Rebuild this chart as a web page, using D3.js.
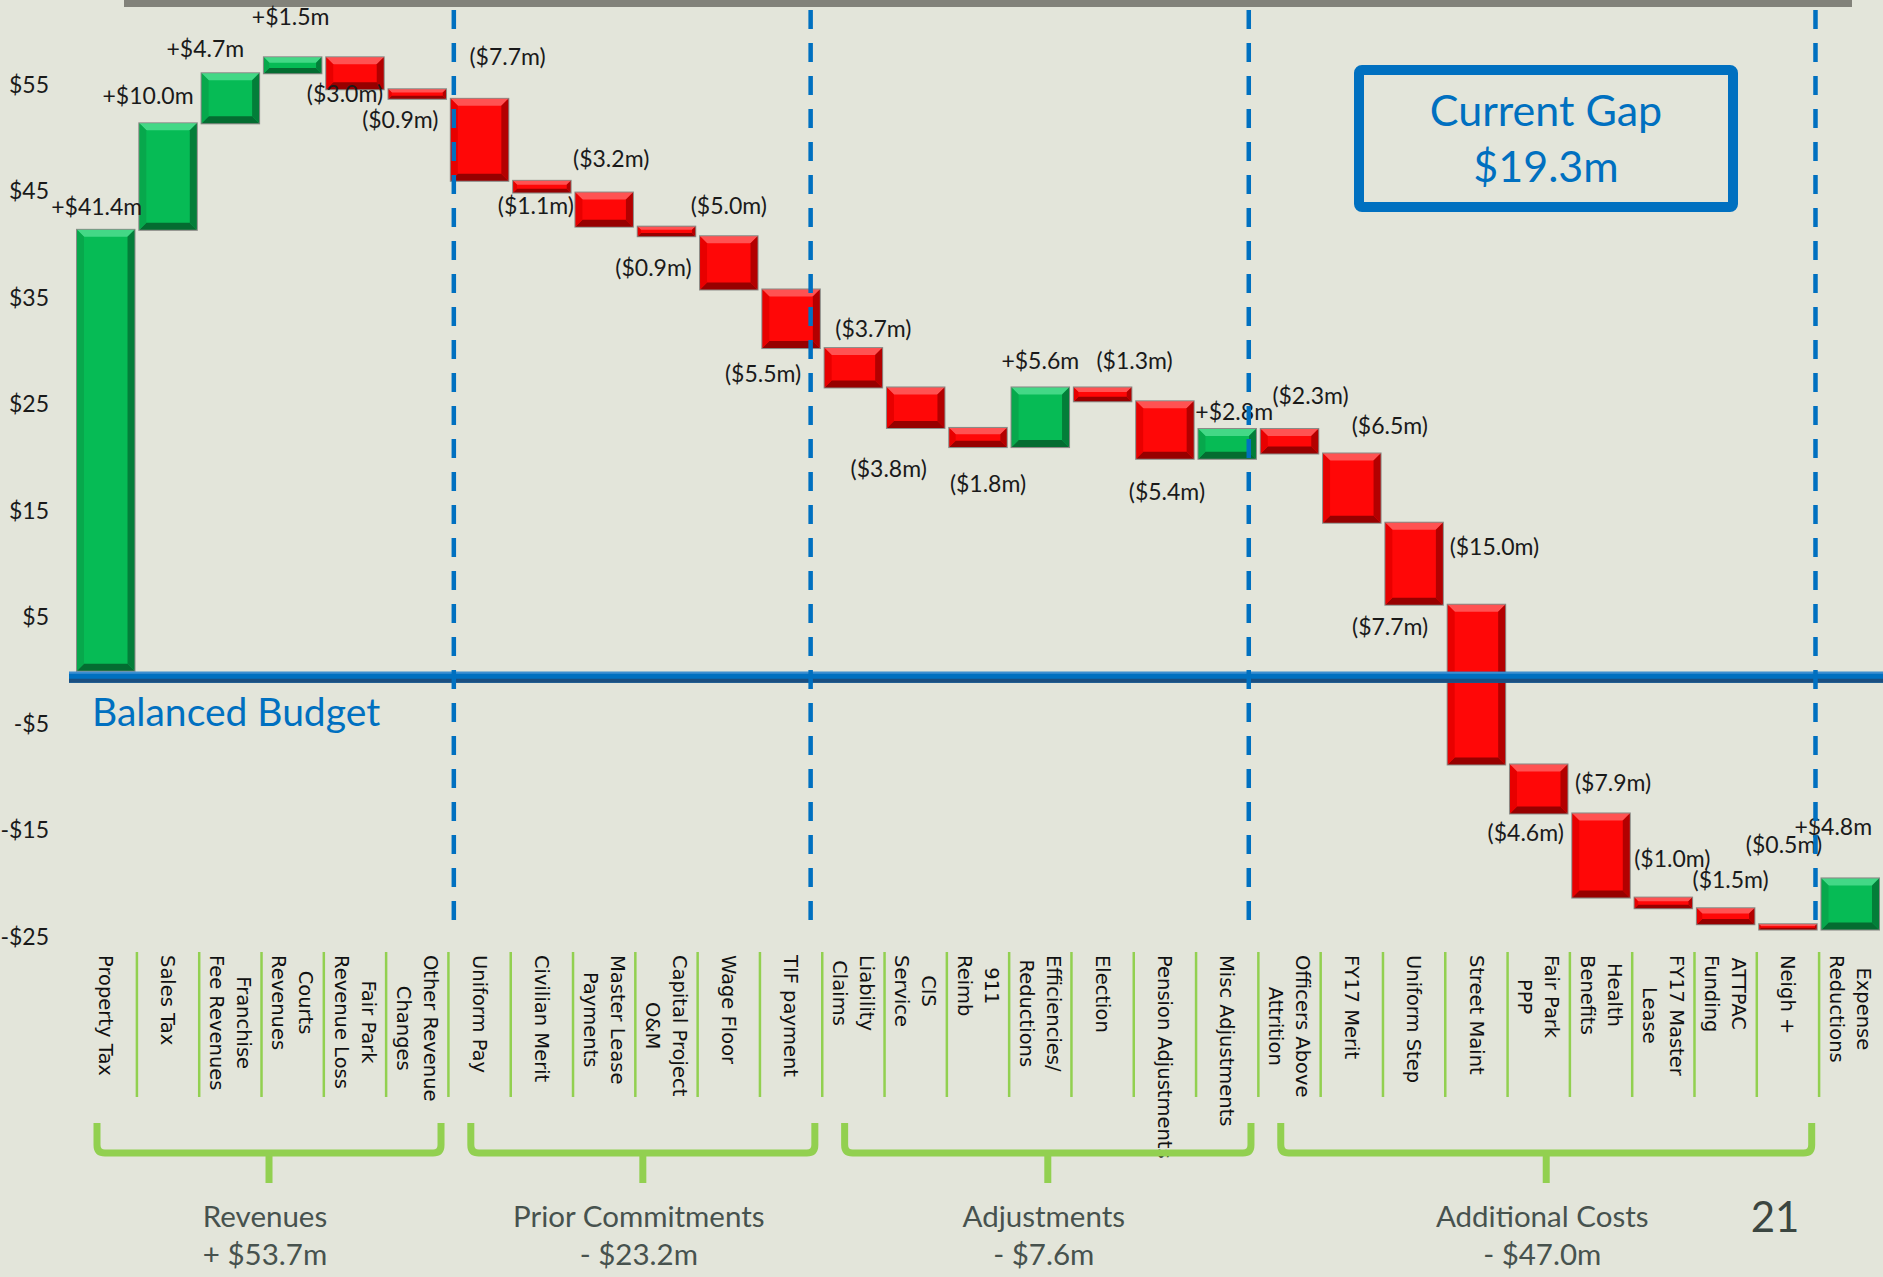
<!DOCTYPE html>
<html>
<head>
<meta charset="utf-8">
<script src="https://cdn.jsdelivr.net/npm/d3@7"></script>
<style>
  body { margin: 0; background: #e3e5da; }
  svg { display: block; }
</style>
</head>
<body>
<div id="chart"></div>
<script>
"use strict";

// budget bridge data ($m)
var categories = [
  "Property Tax", "Sales Tax", "Franchise\nFee Revenues", "Courts\nRevenues", "Fair Park\nRevenue Loss", "Other Revenue\nChanges",
  "Uniform Pay", "Civilian Merit", "Master Lease\nPayments", "Capital Project\nO&M", "Wage Floor", "TIF payment",
  "Liability\nClaims", "CIS\nService", "911\nReimb", "Efficiencies/\nReductions", "Election", "Pension Adjustments", "Misc Adjustments",
  "Officers Above\nAttrition", "FY17 Merit", "Uniform Step", "Street Maint", "Fair Park\nPPP", "Health\nBenefits",
  "FY17 Master\nLease", "ATTPAC\nFunding", "Neigh +", "Expense\nReductions"
];
var changes = [
  41.4, 10.0, 4.7, 1.5, -3.0, -0.9,
  -7.7, -1.1, -3.2, -0.9, -5.0, -5.5,
  -3.7, -3.8, -1.8, 5.6, -1.3, -5.4, 2.8,
  -2.3, -6.5, -7.7, -15.0, -4.6, -7.9, -1.0, -1.5, -0.5, 4.8
];
var tickValues = [55, 45, 35, 25, 15, 5, -5, -15, -25];
var groupNames = ["Revenues", "Prior Commitments", "Adjustments", "Additional Costs"];
var groupTotals = ["+ $53.7m", "- $23.2m", "- $7.6m", "- $47.0m"];
var groupFirst = [0, 6, 12, 19];
var groupLast = [5, 11, 18, 27];
var gapTitle = "Current Gap";
var gapValue = "$19.3m";
var pageNumber = "21";

// where each value label sits: edge of the bar, dx, dy (layout only)
var labelAt = [
  ["t", -9, -15], ["t", -20, -19], ["t", -25, -16], ["t", -2, -32], ["b", -10, 13], ["b", -17, 29],
  ["t", 28, -34], ["b", -6, 21], ["t", 7, -26], ["b", -13, 40], ["t", 0, -22], ["b", -28, 34],
  ["t", 20, -11], ["b", -27, 49], ["b", 10, 45], ["t", 0, -18], ["t", 32, -18], ["b", 2, 41], ["t", 7, -9],
  ["t", 21, -25], ["t", 38, -19], ["b", -24, 30], ["t", 18, -50], ["b", -13, 28], ["t", 12, -22],
  ["t", 9, -31], ["t", 5, -20], ["t", -4, -71], ["t", -17, -43]
];
// nudge of each dashed divider from the start of the next group (layout only)
var dividerShift = [3, -14, -12, -6];

var width = 1883, height = 1277;

var svg = d3.select("#chart").append("svg")
    .attr("width", width)
    .attr("height", height);

svg.append("rect").attr("width", width).attr("height", height).attr("fill", "#e3e5da");

var y = d3.scaleLinear().domain([-25, 55]).range([937, 85]);
var x = d3.scaleBand().domain(d3.range(categories.length)).range([77, 1879]).paddingInner(0.077).paddingOuter(0);
var bw = x.bandwidth();

var ends = Array.from(d3.cumsum(changes));
var bars = changes.map(function(c, i) {
  var end = ends[i], start = end - c;
  return { i: i, change: c, top: y(Math.max(start, end)), bottom: y(Math.min(start, end)) };
});

// top grey rule
svg.append("rect").attr("x", 124).attr("y", 0).attr("width", 1728).attr("height", 7).attr("fill", "#82827a");

// y axis, labels only
var yAxis = d3.axisLeft(y)
    .tickValues(tickValues)
    .tickSize(0)
    .tickPadding(0)
    .tickFormat(function(v) { return (v < 0 ? "-" : "") + "$" + Math.abs(v); });

var ay = svg.append("g").attr("transform", "translate(49,0)").call(yAxis);
ay.select(".domain").remove();
ay.selectAll("text")
    .attr("font-family", "Lato, sans-serif")
    .attr("font-size", 23)
    .attr("fill", "#1a1a1a");

// bevelled bars
var palettes = {
  up:   { face: "#06bb55", top: "#43d886", left: "#07a84c", right: "#037e39", bottom: "#046c31" },
  down: { face: "#ff0707", top: "#ff5252", left: "#e80000", right: "#b30000", bottom: "#970000" }
};

var gBars = svg.append("g");
bars.forEach(function(d) {
  var x0 = x(d.i), y0 = d.top, w = bw, h = Math.max(d.bottom - d.top, 2);
  var pal = d.change >= 0 ? palettes.up : palettes.down;
  var b = Math.min(7, h / 3, w / 3);
  var g = gBars.append("g");
  g.append("rect").attr("x", x0).attr("y", y0).attr("width", w).attr("height", h)
      .attr("fill", pal.face).attr("stroke", "#8a8a86").attr("stroke-width", 2);
  var poly = function(pts, fill) {
    g.append("polygon").attr("points", pts.map(function(p) { return p.join(","); }).join(" ")).attr("fill", fill);
  };
  poly([[x0, y0], [x0 + w, y0], [x0 + w - b, y0 + b], [x0 + b, y0 + b]], pal.top);
  poly([[x0, y0 + h], [x0 + w, y0 + h], [x0 + w - b, y0 + h - b], [x0 + b, y0 + h - b]], pal.bottom);
  poly([[x0, y0], [x0 + b, y0 + b], [x0 + b, y0 + h - b], [x0, y0 + h]], pal.left);
  poly([[x0 + w, y0], [x0 + w - b, y0 + b], [x0 + w - b, y0 + h - b], [x0 + w, y0 + h]], pal.right);
});

// value labels
var f1 = d3.format(".1f");
svg.append("g").selectAll("text")
  .data(bars)
  .enter().append("text")
    .attr("x", function(d) { return x(d.i) + bw / 2 + labelAt[d.i][1]; })
    .attr("y", function(d) { return (labelAt[d.i][0] === "t" ? d.top : d.bottom) + labelAt[d.i][2]; })
    .attr("text-anchor", "middle")
    .attr("font-family", "Lato, sans-serif")
    .attr("font-size", 23)
    .attr("fill", "#1a1a1a")
    .text(function(d) { return d.change > 0 ? "+$" + f1(d.change) + "m" : "($" + f1(-d.change) + "m)"; });

// balanced budget line
var zy = y(0);
svg.append("rect").attr("x", 69).attr("y", zy + 1).attr("width", width - 69).attr("height", 11).attr("fill", "#0070c0");
svg.append("rect").attr("x", 69).attr("y", zy + 8).attr("width", width - 69).attr("height", 4).attr("fill", "#1b4f80");
svg.append("rect").attr("x", 69).attr("y", zy + 1).attr("width", width - 69).attr("height", 2).attr("fill", "#3d8fd1");
svg.append("text")
    .attr("x", 92).attr("y", zy + 55)
    .attr("font-family", "Lato, sans-serif")
    .attr("font-size", 39)
    .attr("fill", "#0070c0")
    .text("Balanced Budget");

// dashed group dividers
groupLast.forEach(function(li, k) {
  var xb = x(li + 1) + dividerShift[k];
  svg.append("line")
      .attr("x1", xb).attr("x2", xb)
      .attr("y1", 10).attr("y2", 925)
      .attr("stroke", "#0070c0")
      .attr("stroke-width", 4.5)
      .attr("stroke-dasharray", "19,14");
});

// category separators
d3.range(1, categories.length).forEach(function(i) {
  var xs = x(i) - (x.step() - bw) / 2;
  svg.append("line")
      .attr("x1", xs).attr("x2", xs)
      .attr("y1", 952).attr("y2", 1097)
      .attr("stroke", "#92d050")
      .attr("stroke-width", 2.5);
});

// category labels, rotated
var gCat = svg.append("g")
    .attr("font-family", "'DejaVu Sans', sans-serif")
    .attr("font-size", 19.5)
    .attr("fill", "#111");
categories.forEach(function(name, i) {
  var lines = name.split("\n");
  var cx = x(i) + bw / 2;
  var texts = lines.map(function(line) {
    return gCat.append("text").attr("text-anchor", "middle").attr("dy", "0.35em").text(line);
  });
  var maxLen = d3.max(texts, function(t) { return t.node().getComputedTextLength(); });
  texts.forEach(function(t, k) {
    var lx = cx + ((lines.length - 1) / 2 - k) * 27;
    t.attr("transform", "translate(" + lx + "," + (955 + maxLen / 2) + ") rotate(90)");
  });
});

// group brackets and totals
var r = 8, yArm = 1123, yH = 1153, yTick = 1183;
groupNames.forEach(function(name, k) {
  var xl = x(groupFirst[k]) + 20;
  var xr = x(groupLast[k]) + bw - 5;
  var xm = (xl + xr) / 2;
  svg.append("path")
      .attr("d", "M" + xl + "," + yArm + " V" + (yH - r) + " Q" + xl + "," + yH + " " + (xl + r) + "," + yH +
                 " H" + (xr - r) + " Q" + xr + "," + yH + " " + xr + "," + (yH - r) + " V" + yArm +
                 " M" + xm + "," + yH + " V" + yTick)
      .attr("fill", "none")
      .attr("stroke", "#92d050")
      .attr("stroke-width", 7);
  var t = svg.append("text")
      .attr("text-anchor", "middle")
      .attr("font-family", "Lato, sans-serif")
      .attr("font-size", 29.5)
      .attr("fill", "#47524e");
  t.append("tspan").attr("x", xm - 4).attr("y", 1227).text(name);
  t.append("tspan").attr("x", xm - 4).attr("y", 1265).text(groupTotals[k]);
});

// current gap callout
svg.append("rect")
    .attr("x", 1359).attr("y", 70).attr("width", 374).attr("height", 137)
    .attr("rx", 3)
    .attr("fill", "none")
    .attr("stroke", "#0070c0")
    .attr("stroke-width", 10);
svg.append("text")
    .attr("x", 1546).attr("y", 126)
    .attr("text-anchor", "middle")
    .attr("font-family", "Lato, sans-serif")
    .attr("font-size", 43)
    .attr("fill", "#0070c0")
    .text(gapTitle);
svg.append("text")
    .attr("x", 1546).attr("y", 182)
    .attr("text-anchor", "middle")
    .attr("font-family", "Lato, sans-serif")
    .attr("font-size", 43)
    .attr("fill", "#0070c0")
    .text(gapValue);

// slide number
svg.append("text")
    .attr("x", 1775).attr("y", 1232)
    .attr("text-anchor", "middle")
    .attr("font-family", "Lato, sans-serif")
    .attr("font-size", 42)
    .attr("fill", "#3b4641")
    .text(pageNumber);
</script>
</body>
</html>
